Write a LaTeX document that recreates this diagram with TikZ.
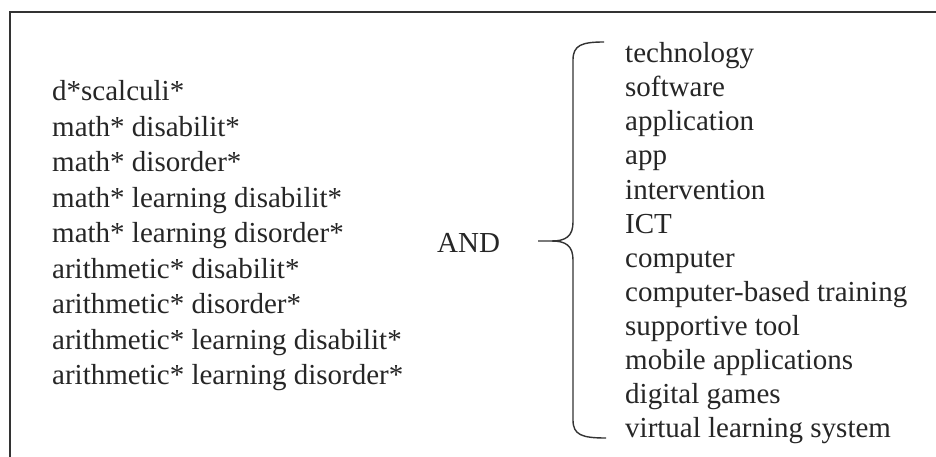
\documentclass[tikz,border=0pt]{standalone}
\usepackage{fontspec}
\setmainfont{Liberation Serif}
\begin{document}
\begin{tikzpicture}[x=1pt,y=-1pt,
  term/.style={anchor=base west,inner sep=0pt,text=black!85,font=\fontsize{29}{34}\selectfont},
  frame/.style={draw=black!80,line width=1.8pt},
  bracel/.style={draw=black!80,line width=1.4pt}]
\useasboundingbox[fill=white] (0,0) rectangle (936,457);
% frame (only top and left edges visible)
\coordinate (fbl) at (10,457);
\coordinate (ftl) at (10,12);
\coordinate (ftr) at (936,12);
\draw[frame] (fbl) -- (ftl) -- (ftr);
% left column
\foreach \t [count=\i from 0] in {d*scalculi*,math* disabilit*,math* disorder*,math* learning disabilit*,math* learning disorder*,arithmetic* disabilit*,arithmetic* disorder*,arithmetic* learning disabilit*,arithmetic* learning disorder*}
  \node[term] (l\i) at (52,100.7+35.5*\i) {\t};
% AND
\node[term] (and) at (437,252) {AND};
% right column
\foreach \t [count=\i from 0] in {technology,software,application,app,intervention,ICT,computer,computer-based training,supportive tool,mobile applications,digital games,virtual learning system}
  \node[term] (r\i) at (625,63+34*\i) {\t};
% brace
\coordinate (btop) at (604,42);
\coordinate (bbot) at (606,438);
\coordinate (btip) at (538,241);
\draw[bracel] (btop) .. controls (582,42) and (573,45) .. (573,60) -- (573,222)
   .. controls (573,236) and (566,241) .. (552,241) -- (btip);
\draw[bracel] (552,241) .. controls (566,241) and (573,246) .. (573,260) -- (573,420)
   .. controls (573,435) and (582,438) .. (bbot);
\end{tikzpicture}
\end{document}
